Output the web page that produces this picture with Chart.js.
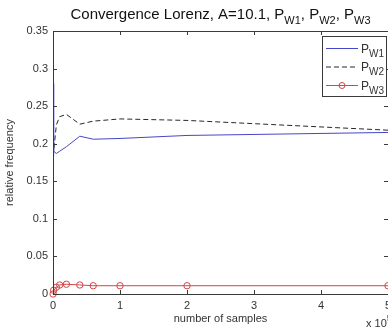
<!DOCTYPE html>
<html>
<head>
<meta charset="utf-8">
<script src="https://cdn.jsdelivr.net/npm/chart.js@4/dist/chart.umd.min.js"></script>
<style>
html, body { margin: 0; padding: 0; background: #fff; overflow: hidden; }
#wrap { position: relative; width: 420px; height: 333px; }
</style>
</head>
<body>
<div id="wrap"><canvas id="chart"></canvas></div>
<script>
// number of samples and the three relative frequencies
const samples = [100, 1000, 5000, 10000, 20000, 40000, 60000, 100000, 200000, 500000];
const pW1 = [0.280, 0.190, 0.187, 0.190, 0.196, 0.210, 0.206, 0.207, 0.211, 0.215];
const pW2 = [0.130, 0.190, 0.225, 0.236, 0.239, 0.226, 0.230, 0.233, 0.231, 0.218];
const pW3 = [0.000, 0.005, 0.009, 0.012, 0.013, 0.012, 0.011, 0.011, 0.011, 0.011];
const seriesSubs = ['W1', 'W2', 'W3'];
const xTicks = [0, 1, 2, 3, 4, 5];          // x 10^5
const yTicks = [0, 0.05, 0.1, 0.15, 0.2, 0.25, 0.3, 0.35];

const blue = 'rgb(70,70,200)';
const dark = 'rgb(40,40,40)';
const red = 'rgb(210,70,70)';
const axisCol = '#3a3a3a';
const font = '"Liberation Sans", Arial, sans-serif';

function pts(ys) {
  return samples.map((s, i) => ({ x: s, y: ys[i] }));
}

// draw "P" + subscript style text pieces
function drawRich(ctx, parts, x, y, align) {
  let w = 0;
  parts.forEach(p => { ctx.font = p.size + 'px ' + font; p.w = ctx.measureText(p.t).width; w += p.w; });
  let cx = align === 'center' ? x - w / 2 : x;
  ctx.textAlign = 'left';
  ctx.textBaseline = 'alphabetic';
  parts.forEach(p => {
    ctx.font = p.size + 'px ' + font;
    ctx.fillText(p.t, cx, y + (p.dy || 0));
    cx += p.w;
  });
}

const decor = {
  id: 'decor',
  afterDatasetsDraw(chart) {
    const { ctx, chartArea: a, scales: { x, y } } = chart;
    ctx.save();
    ctx.strokeStyle = axisCol;
    ctx.lineWidth = 1;
    ctx.beginPath();
    ctx.rect(Math.round(a.left) + 0.5, Math.round(a.top) + 0.5, Math.round(a.right - a.left), Math.round(a.bottom - a.top));
    xTicks.forEach(v => {
      const px = Math.round(x.getPixelForValue(v * 1e5)) + 0.5;
      ctx.moveTo(px, a.bottom); ctx.lineTo(px, a.bottom - 4);
      ctx.moveTo(px, a.top); ctx.lineTo(px, a.top + 4);
    });
    yTicks.forEach(v => {
      const py = Math.round(y.getPixelForValue(v)) + 0.5;
      ctx.moveTo(a.left, py); ctx.lineTo(a.left + 4, py);
      ctx.moveTo(a.right, py); ctx.lineTo(a.right - 4, py);
    });
    ctx.stroke();

    // legend
    const lx = a.right - 66, ly = a.top + 5, lw = 64, lh = 60;
    ctx.fillStyle = '#fff';
    ctx.fillRect(lx, ly, lw, lh);
    ctx.strokeRect(lx + 0.5, ly + 0.5, lw, lh);
    const styles = [
      { c: blue, dash: [] },
      { c: dark, dash: [5, 3] },
      { c: red, dash: [], marker: true }
    ];
    styles.forEach((s, i) => {
      const ry = ly + 12.5 + i * 18.5;
      ctx.strokeStyle = s.c;
      ctx.setLineDash(s.dash);
      ctx.beginPath();
      ctx.moveTo(lx + 4, ry); ctx.lineTo(lx + 36, ry);
      ctx.stroke();
      ctx.setLineDash([]);
      if (s.marker) {
        ctx.beginPath();
        ctx.arc(lx + 20, ry, 3, 0, Math.PI * 2);
        ctx.stroke();
      }
      ctx.fillStyle = '#333';
      drawRich(ctx, [{ t: 'P', size: 12 }, { t: seriesSubs[i], size: 10, dy: 4 }], lx + 39, ry + 4, 'left');
    });

    // exponent label
    ctx.fillStyle = '#333';
    drawRich(ctx, [{ t: 'x 10', size: 11 }, { t: '5', size: 9, dy: -6 }], a.right - 22, 327, 'left');

    // title
    ctx.fillStyle = '#111';
    drawRich(ctx, [
      { t: 'Convergence Lorenz, A=10.1, P', size: 15 },
      { t: 'W1', size: 11, dy: 5 },
      { t: ', P', size: 15 },
      { t: 'W2', size: 11, dy: 5 },
      { t: ', P', size: 15 },
      { t: 'W3', size: 11, dy: 5 }
    ], (a.left + a.right) / 2, 19, 'center');
    ctx.restore();
  }
};

new Chart(document.getElementById('chart'), {
  type: 'line',
  data: {
    datasets: [
      { data: pts(pW1), borderColor: blue, borderWidth: 1, pointRadius: 0, tension: 0 },
      { data: pts(pW2), borderColor: dark, borderWidth: 1, borderDash: [5, 3], pointRadius: 0, tension: 0 },
      { data: pts(pW3), borderColor: red, borderWidth: 1, pointRadius: 3.2, pointBorderWidth: 1,
        pointBorderColor: red, pointBackgroundColor: 'rgba(0,0,0,0)', tension: 0, clip: false }
    ]
  },
  options: {
    responsive: true,
    maintainAspectRatio: false,
    animation: false,
    layout: { padding: { top: 31, right: 32, left: 0, bottom: 0 } },
    plugins: { legend: { display: false }, tooltip: { enabled: false }, title: { display: false } },
    scales: {
      x: {
        type: 'linear', min: 0, max: 500000,
        afterFit: s => { s.height = 39; },
        afterBuildTicks: s => { s.ticks = xTicks.map(v => ({ value: v * 1e5 })); },
        grid: { display: false, drawTicks: false },
        border: { display: false },
        ticks: { padding: 5, color: '#333', font: { family: font, size: 11 }, maxRotation: 0,
          callback: v => String(v / 1e5) },
        title: { display: true, text: 'number of samples', color: '#333',
          font: { family: font, size: 11 }, padding: { top: 0, bottom: 7 } }
      },
      y: {
        type: 'linear', min: 0, max: 0.35,
        afterFit: s => { s.width = 53; },
        afterBuildTicks: s => { s.ticks = yTicks.map(v => ({ value: v })); },
        grid: { display: false, drawTicks: false },
        border: { display: false },
        ticks: { padding: 5, color: '#333', font: { family: font, size: 11 },
          callback: v => String(Number(v.toFixed(2))) },
        title: { display: true, text: 'relative frequency', color: '#333',
          font: { family: font, size: 11 }, padding: { top: 3, bottom: 0 } }
      }
    }
  },
  plugins: [decor]
});
</script>
</body>
</html>
